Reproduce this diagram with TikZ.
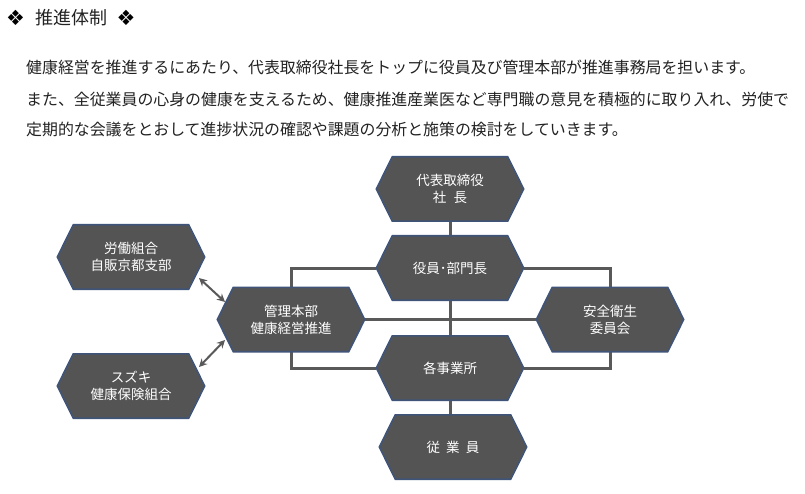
\documentclass[tikz,border=0pt]{standalone}
\usepackage{fontspec}
\setmainfont{Noto Sans CJK JP}
\newfontfamily\symfont{DejaVu Sans}
\usetikzlibrary{arrows.meta,calc}
\definecolor{hexfill}{HTML}{545454}
\definecolor{hexedge}{HTML}{3F5478}
\definecolor{conn}{HTML}{595959}
\definecolor{bodycol}{HTML}{222222}
\pgfdeclarelayer{back}
\pgfdeclarelayer{bg}
\pgfsetlayers{back,bg,main}
\begin{document}
\begin{tikzpicture}[x=1pt,y=-1pt,
  hexbox/.style={minimum width=147pt,minimum height=64pt,inner sep=0pt,text=white,font=\fontsize{13.5}{17}\selectfont,align=center},
  hexshape/.style={fill=hexfill,draw=hexedge,line width=1.6pt,line join=miter},
  connline/.style={draw=conn,line width=3pt},
  dblarrow/.style={draw=conn,line width=2pt,{Stealth[length=8pt,width=8pt]}-{Stealth[length=8pt,width=8pt]}},
  bodytext/.style={anchor=west,inner sep=0pt,font=\fontsize{15.9}{19}\selectfont,text=bodycol},
  symtext/.style={inner sep=0pt,font=\symfont\fontsize{21}{24}\selectfont,text=black}
]
\useasboundingbox (0,0) rectangle (805,494);
\begin{pgfonlayer}{back}
\fill[white] (0,0) rectangle (805,494);
\end{pgfonlayer}
% title
\node[symtext] (s1) at (15.5,18) {❖};
\node[anchor=west,inner sep=0pt,font=\fontsize{18}{22}\selectfont,text=bodycol] (title) at (35,18) {推進体制};
\node[symtext] (s2) at (126,18) {❖};
% body text
\node[bodytext] (t1) at (26,67) {健康経営を推進するにあたり、代表取締役社長をトップに役員及び管理本部が推進事務局を担います。};
\node[bodytext] (t2) at (26,99) {また、全従業員の心身の健康を支えるため、健康推進産業医など専門職の意見を積極的に取り入れ、労使で};
\node[bodytext] (t3) at (26,129) {定期的な会議をとおして進捗状況の確認や課題の分析と施策の検討をしていきます。};
% nodes
\node[hexbox] (daihyo) at (450,189) {代表取締役\\社\hspace{0.55em}長};
\node[hexbox] (yakuin) at (450,268) {役員･部門長};
\node[hexbox] (kanri) at (291,319.5) {管理本部\\健康経営推進};
\node[hexbox] (rodo) at (131,257) {労働組合\\自販京都支部};
\node[hexbox] (kenpo) at (131,386) {スズキ\\健康保険組合};
\node[hexbox] (anzen) at (610,319.5) {安全衛生\\委員会};
\node[hexbox] (jigyo) at (450,368) {各事業所};
\node[hexbox] (jugyo) at (453,447) {従\hspace{0.45em}業\hspace{0.45em}員};
\begin{pgfonlayer}{bg}
\draw[connline] (daihyo.south) -- (yakuin.north);
\draw[connline] (yakuin.west) -| (kanri.north);
\draw[connline] (yakuin.east) -| (anzen.north);
\draw[connline] (yakuin.south) -- (jigyo.north);
\draw[connline] (kanri.east) -- (anzen.west);
\draw[connline] (kanri.south) |- (jigyo.west);
\draw[connline] (anzen.south) |- (jigyo.east);
\draw[connline] (jigyo.south) -- (jigyo.south |- jugyo.north);
\foreach \n in {daihyo,yakuin,kanri,rodo,kenpo,anzen,jigyo,jugyo}
  \draw[hexshape] (\n.west) -- ($(\n.north west)+(16,0)$) -- ($(\n.north east)+(-16,0)$) -- (\n.east) -- ($(\n.south east)+(-16,0)$) -- ($(\n.south west)+(16,0)$) -- cycle;
\end{pgfonlayer}
\draw[dblarrow] ($(rodo.center)+(68,21)$) -- ($(kanri.center)+(-66,-17.5)$);
\draw[dblarrow] ($(kenpo.center)+(68,-19)$) -- ($(kanri.center)+(-66,20.5)$);
\end{tikzpicture}
\end{document}
